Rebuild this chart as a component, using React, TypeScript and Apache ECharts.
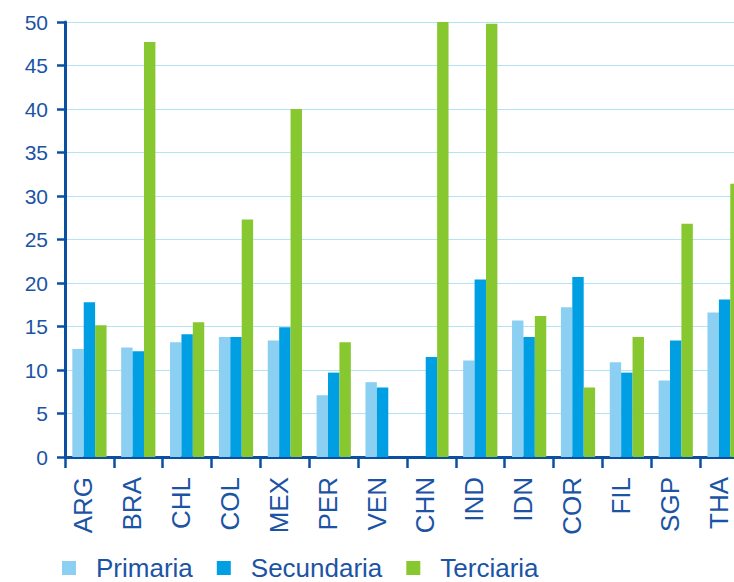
import React, { useEffect, useRef } from "react";
import * as echarts from "echarts";

const categories = ["ARG", "BRA", "CHL", "COL", "MEX", "PER", "VEN", "CHN", "IND", "IDN", "COR", "FIL", "SGP", "THA"];
const primaria = [12.4, 12.6, 13.2, 13.8, 13.4, 7.1, 8.6, null, 11.1, 15.7, 17.2, 10.9, 8.8, 16.6];
const secundaria = [17.8, 12.15, 14.1, 13.8, 14.9, 9.7, 8.0, 11.5, 20.4, 13.8, 20.7, 9.7, 13.4, 18.1];
const terciaria = [15.15, 47.7, 15.5, 27.3, 40.0, 13.2, null, 50, 49.8, 16.2, 8.0, 13.8, 26.8, 31.4];
const yTicks = { min: 0, max: 50, interval: 5 };

const AXIS = "#0b4fa3";
const TEXT = "#1b54a4";
const FONT = "'Liberation Sans', Arial, sans-serif";

export default function App() {
  const ref = useRef<HTMLDivElement>(null);
  useEffect(() => {
    if (!ref.current) return;
    const chart = echarts.init(ref.current, null, { renderer: "svg" });
    const mk = (name: string, data: (number | null)[], color: string) => ({
      name,
      type: "bar",
      data: data.map((v) => (v == null ? "-" : v)),
      itemStyle: { color },
      barGap: "0%",
      barCategoryGap: "30%",
    });
    chart.setOption({
      animation: false,
      textStyle: { fontFamily: FONT },
      grid: { left: 65, right: 11, top: 22, bottom: 125, containLabel: false },
      legend: {
        left: 62,
        top: 555,
        padding: 0,
        itemWidth: 14,
        itemHeight: 14,
        itemGap: 24,
        icon: "rect",
        textStyle: { color: TEXT, fontSize: 26, fontFamily: FONT, padding: [0, 0, 0, 15] },
        data: ["Primaria", "Secundaria", "Terciaria"],
      },
      xAxis: {
        type: "category",
        data: categories,
        boundaryGap: true,
        axisLine: { lineStyle: { color: AXIS, width: 3 } },
        axisTick: { show: true, length: 11, lineStyle: { color: AXIS, width: 2.5 } },
        axisLabel: {
          rotate: 90,
          margin: 20,
          color: TEXT,
          fontSize: 26,
          fontFamily: FONT,
          interval: 0,
          verticalAlign: "bottom",
          lineHeight: 12,
        },
      },
      yAxis: {
        type: "value",
        min: yTicks.min,
        max: yTicks.max,
        interval: yTicks.interval,
        axisLine: { show: true, lineStyle: { color: AXIS, width: 3 } },
        axisTick: { show: true, length: 8, lineStyle: { color: AXIS, width: 2.5 } },
        axisLabel: { margin: 17, color: TEXT, fontSize: 21, fontFamily: FONT },
        splitLine: { show: true, lineStyle: { color: "#b3e3f6", width: 1.2 } },
      },
      series: [
        mk("Primaria", primaria, "#8bd0f2"),
        mk("Secundaria", secundaria, "#009fe3"),
        mk("Terciaria", terciaria, "#87c72f"),
      ],
    });
    return () => chart.dispose();
  }, []);
  return (
    <div style={{ position: "absolute", left: 0, top: 0, width: 734, height: 582, overflow: "hidden", background: "#fff" }}>
      <div ref={ref} style={{ width: 760, height: 582 }} />
    </div>
  );
}
